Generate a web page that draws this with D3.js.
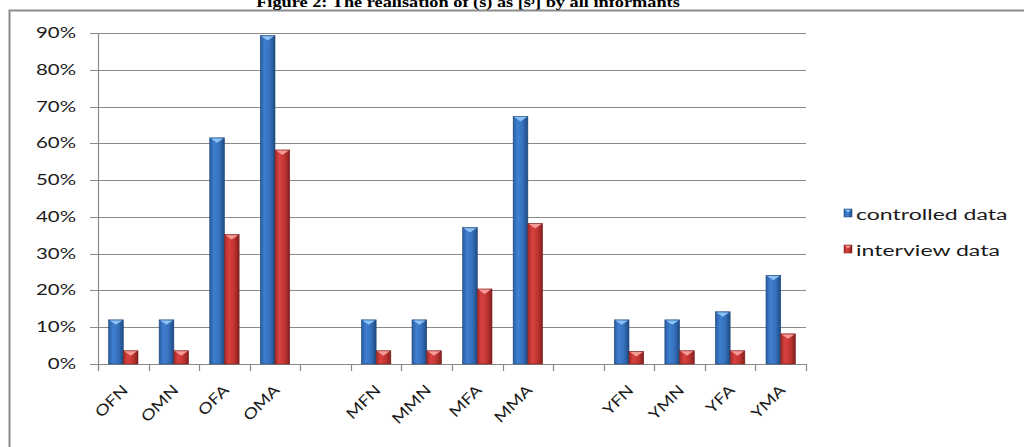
<!DOCTYPE html>
<html>
<head>
<meta charset="utf-8">
<script src="https://cdn.jsdelivr.net/npm/d3@7"></script>
<style>
  html, body { margin: 0; padding: 0; background: #ffffff; }
  svg { display: block; }
</style>
</head>
<body>
<svg id="chart" width="1024" height="447"></svg>
<script>
// Informant groups (blank entries separate the O / M / Y age groups)
const categories = ["OFN", "OMN", "OFA", "OMA", "", "MFN", "MMN", "MFA", "MMA", "", "YFN", "YMN", "YFA", "YMA"];
const seriesNames = ["controlled data", "interview data"];
const controlledData = [12, 12, 61.5, 89.3, null, 12, 12, 37.1, 67.3, null, 12, 12, 14.2, 24.1];
const interviewData = [3.6, 3.6, 35.2, 58.2, null, 3.6, 3.6, 20.4, 38.2, null, 3.4, 3.6, 3.6, 8.2];
const yTicks = [0, 10, 20, 30, 40, 50, 60, 70, 80, 90];
const titleMain = "Figure 2: The realisation of (s) as [s";
const titleSup = "j";
const titleEnd = "] by all informants";

const svg = d3.select("#chart");
const W = 1024, H = 447;
const textFont = "Lato, 'Open Sans', sans-serif";
const SX = 1.36; // horizontal stretch applied to upright text

const plot = { left: 98, right: 806, top: 33, bottom: 364 };

const x = d3.scaleBand()
  .domain(d3.range(categories.length))
  .range([plot.left, plot.right])
  .paddingInner(0).paddingOuter(0);

const xSeries = d3.scaleBand()
  .domain(seriesNames)
  .range([0, x.bandwidth()])
  .paddingInner(0).paddingOuter(0.72);

const y = d3.scaleLinear().domain([0, 90]).range([plot.bottom, plot.top]);

// Gradients for the bevelled bars
const defs = svg.append("defs");
const palette = {
  "controlled data": { stops: ["#2a5c9f", "#3f7fd0", "#3571bd", "#1f4a82"], cap: "#8cc3f4", edge: "#1d4679" },
  "interview data": { stops: ["#a52b29", "#d8423f", "#c13532", "#842020"], cap: "#f59a95", edge: "#7a1d1b" }
};
seriesNames.forEach((s, i) => {
  const g = defs.append("linearGradient").attr("id", "grad" + i)
    .attr("x1", "0%").attr("x2", "100%").attr("y1", "0%").attr("y2", "0%");
  const offs = [0, 0.3, 0.65, 1];
  palette[s].stops.forEach((c, k) => g.append("stop").attr("offset", offs[k]).attr("stop-color", c));
});

// Outer frame
svg.append("rect")
  .attr("x", 9.5).attr("y", 10.5)
  .attr("width", W + 20).attr("height", H + 20)
  .attr("fill", "none").attr("stroke", "#8c8c8c").attr("stroke-width", 2);

// Title, sitting just above the frame
const title = svg.append("g")
  .attr("transform", `translate(468,7) scale(1.22,1)`)
  .append("text")
  .attr("text-anchor", "middle")
  .attr("font-family", "'Liberation Serif', 'Times New Roman', serif")
  .attr("font-weight", "bold")
  .attr("font-size", 15)
  .attr("fill", "#000");
title.append("tspan").text(titleMain);
title.append("tspan").attr("dy", -5).attr("font-size", 10).text(titleSup);
title.append("tspan").attr("dy", 5).text(titleEnd);

// Horizontal gridlines
svg.append("g").selectAll("line")
  .data(yTicks)
  .join("line")
  .attr("x1", plot.left - 8).attr("x2", plot.right)
  .attr("y1", d => Math.round(y(d)) + 0.5).attr("y2", d => Math.round(y(d)) + 0.5)
  .attr("stroke", "#8a8a8a").attr("stroke-width", 1.2);

// Y axis line
svg.append("line")
  .attr("x1", plot.left + 0.5).attr("x2", plot.left + 0.5)
  .attr("y1", plot.top).attr("y2", plot.bottom + 7)
  .attr("stroke", "#8a8a8a").attr("stroke-width", 1.2);

// X axis tick marks at every category boundary
const boundaries = d3.range(categories.length + 1).map(i => plot.left + i * x.step());
svg.append("g").selectAll("line")
  .data(boundaries)
  .join("line")
  .attr("x1", d => Math.round(d) + 0.5).attr("x2", d => Math.round(d) + 0.5)
  .attr("y1", plot.bottom).attr("y2", plot.bottom + 7)
  .attr("stroke", "#8a8a8a").attr("stroke-width", 1.2);

// Y tick labels
svg.append("g").selectAll("g")
  .data(yTicks)
  .join("g")
  .attr("transform", d => `translate(76,${y(d) + 5}) scale(${SX},1)`)
  .append("text")
  .attr("text-anchor", "end")
  .attr("font-family", textFont)
  .attr("font-size", 15)
  .attr("fill", "#1a1a1a")
  .text(d => d3.format(".0%")(d / 100));

// Bars
const rows = categories.map((c, i) => ({ i, c, vals: [controlledData[i], interviewData[i]] }));
seriesNames.forEach((s, si) => {
  const data = rows.filter(r => r.vals[si] != null);
  const g = svg.append("g");
  g.selectAll("rect")
    .data(data)
    .join("rect")
    .attr("x", d => x(d.i) + xSeries(s))
    .attr("y", d => y(d.vals[si]))
    .attr("width", xSeries.bandwidth())
    .attr("height", d => plot.bottom - y(d.vals[si]))
    .attr("fill", `url(#grad${si})`)
    .attr("stroke", palette[s].edge)
    .attr("stroke-width", 0.6);
  // light bevel at the top of each bar
  g.selectAll("path")
    .data(data)
    .join("path")
    .attr("d", d => {
      const x0 = x(d.i) + xSeries(s), w = xSeries.bandwidth(), y0 = y(d.vals[si]);
      return `M${x0 + 1},${y0 + 0.6} L${x0 + w - 1},${y0 + 0.6} L${x0 + w / 2},${y0 + 5} Z`;
    })
    .attr("fill", palette[s].cap);
});

// X category labels, rotated 45 degrees
svg.append("g").selectAll("g")
  .data(rows.filter(r => r.c !== ""))
  .join("g")
  .attr("transform", d => `translate(${x(d.i) + x.bandwidth() / 2 + 5.5},391) rotate(-45) scale(1.22,1)`)
  .append("text")
  .attr("text-anchor", "end")
  .attr("font-family", textFont)
  .attr("font-size", 15)
  .attr("fill", "#1a1a1a")
  .text(d => d.c);

// Legend
const legend = svg.append("g");
seriesNames.forEach((s, si) => {
  const ly = 209 + si * 36;
  legend.append("rect")
    .attr("x", 844).attr("y", ly).attr("width", 8).attr("height", 8)
    .attr("fill", `url(#grad${si})`).attr("stroke", palette[s].edge).attr("stroke-width", 0.5);
  legend.append("path")
    .attr("d", `M845,${ly + 0.8} L851,${ly + 0.8} L848,${ly + 3.5} Z`)
    .attr("fill", palette[s].cap);
  legend.append("g")
    .attr("transform", `translate(856,${ly + 11}) scale(1.44,1)`)
    .append("text")
    .attr("font-family", textFont)
    .attr("font-size", 16)
    .attr("fill", "#1a1a1a")
    .text(s);
});
</script>
</body>
</html>
